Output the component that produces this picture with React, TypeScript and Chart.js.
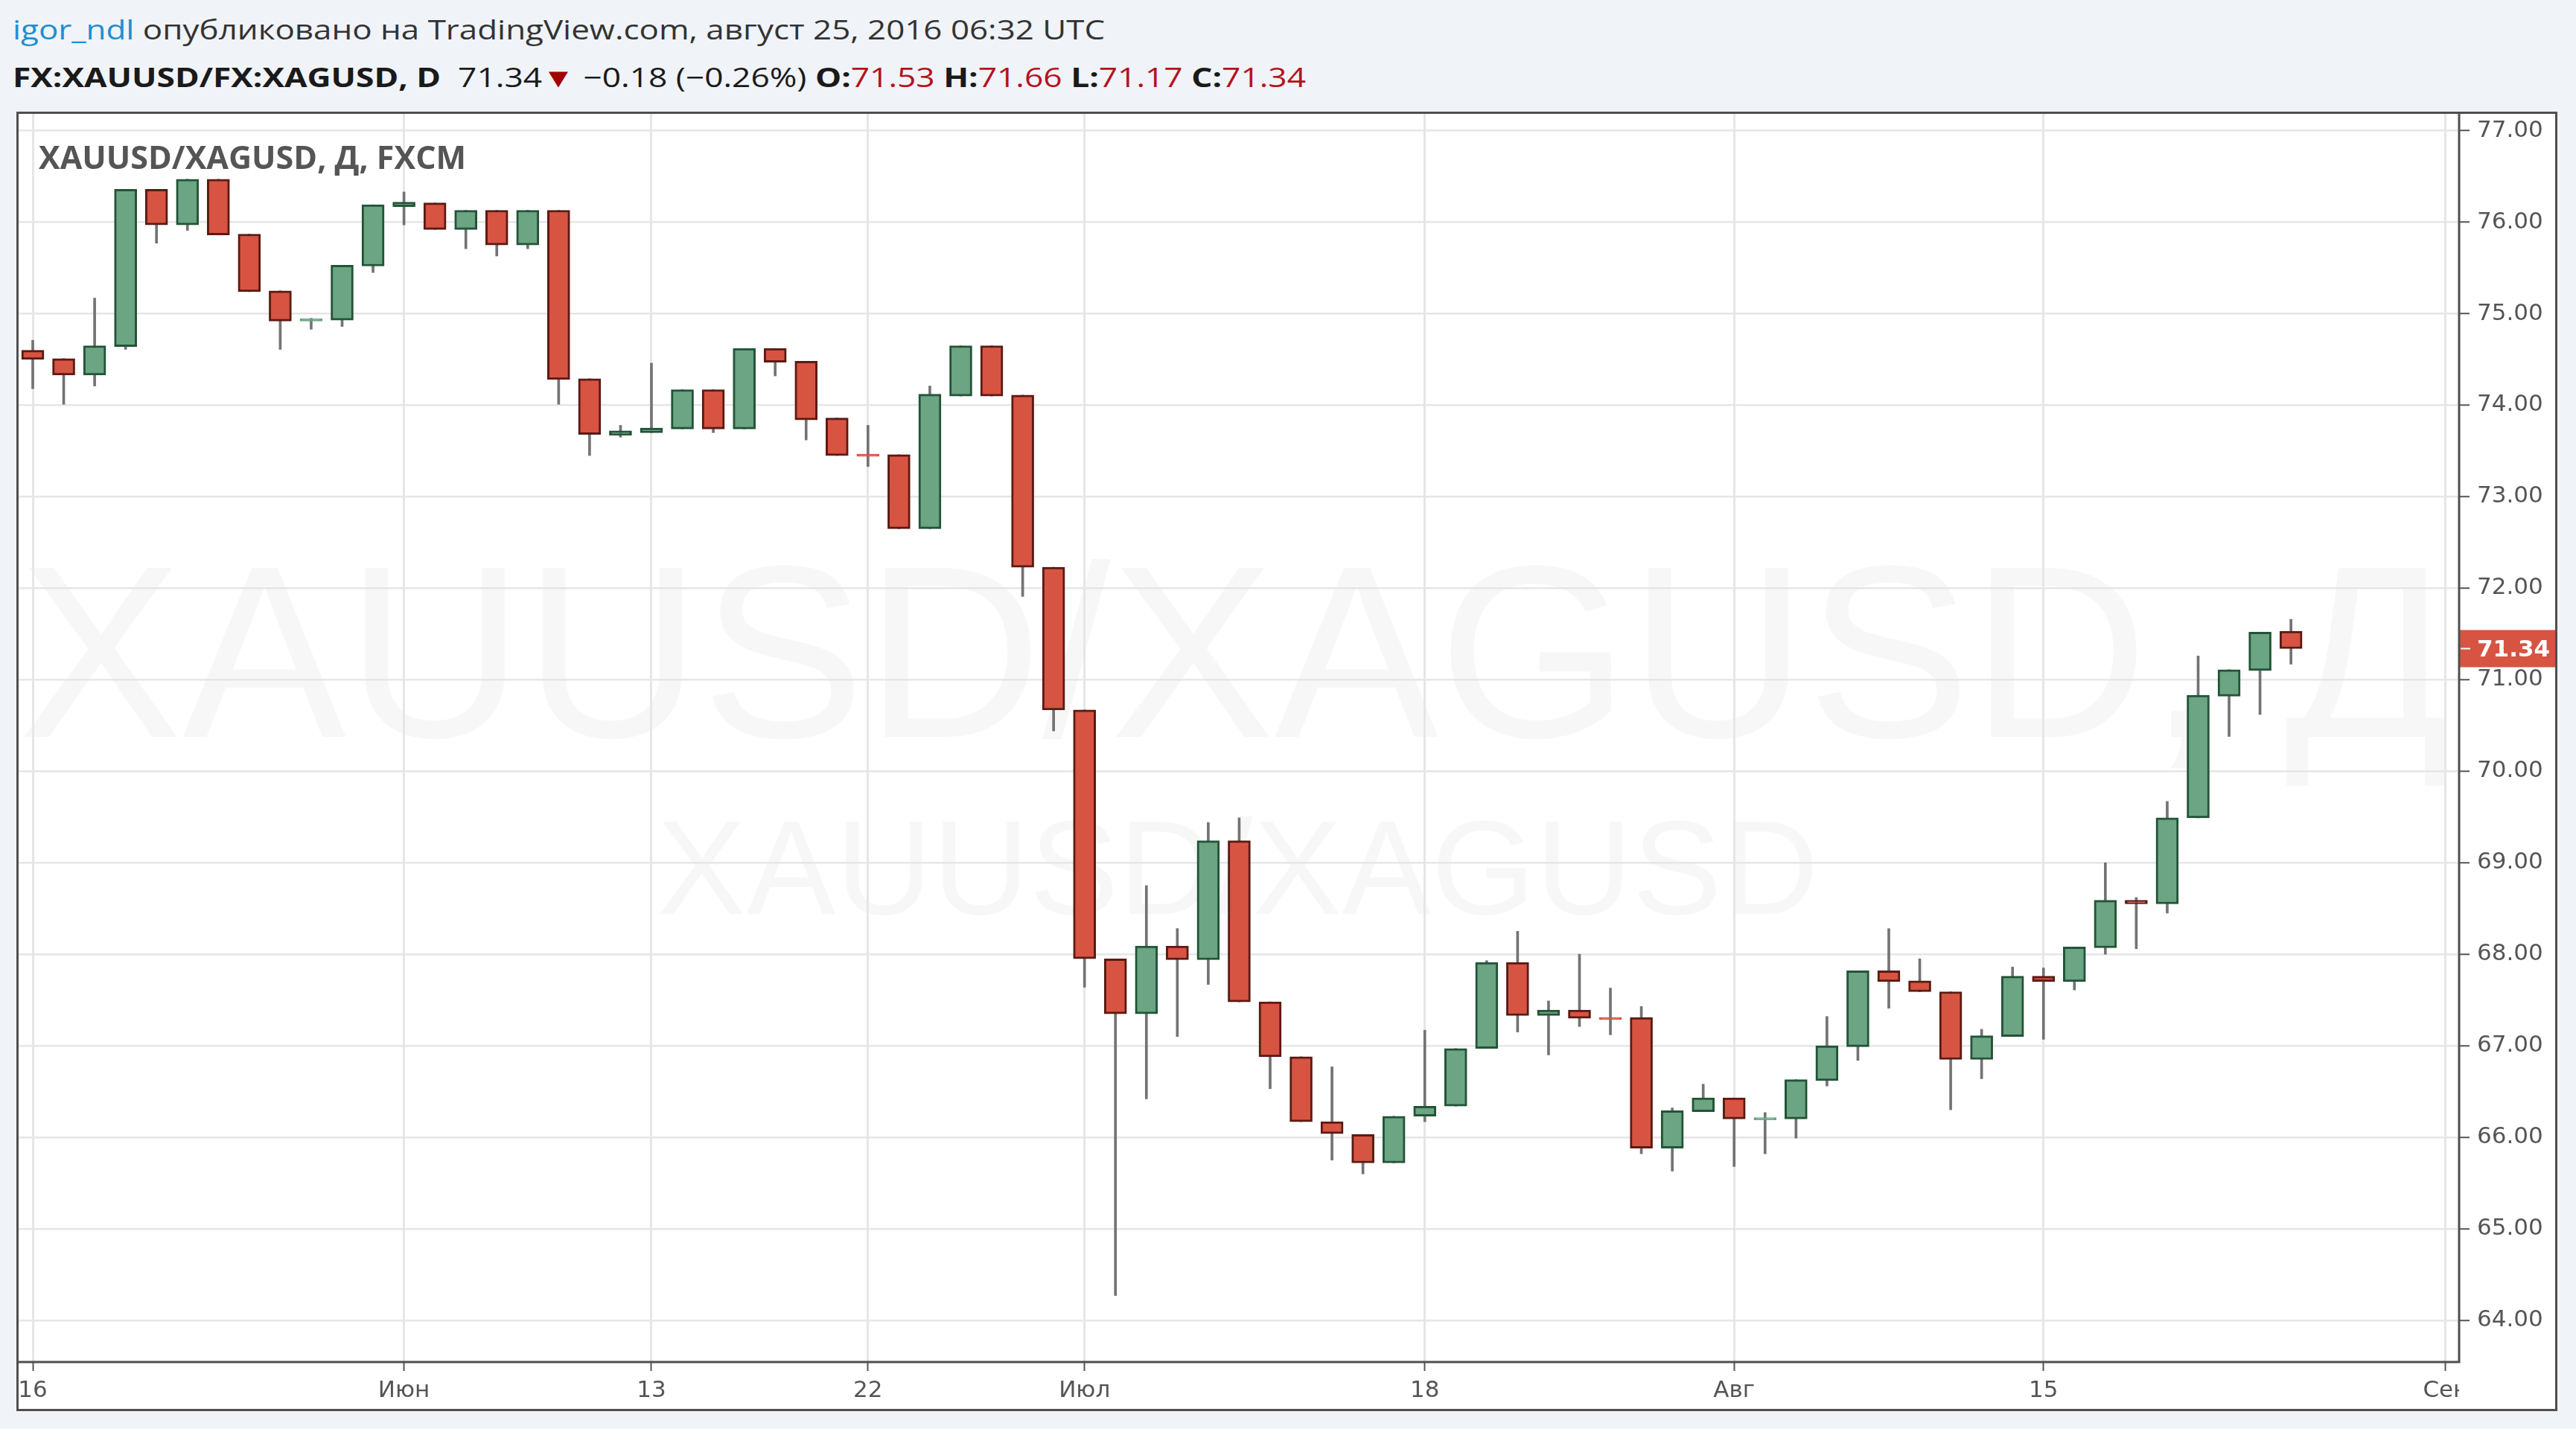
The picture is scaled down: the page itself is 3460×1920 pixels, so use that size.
import React, { useEffect, useRef } from "react";
import { Chart, registerables } from "chart.js";
Chart.register(...registerables);

// Trading days (index 0 = 16 May 2016)
const dates = [
  "05-16","05-17","05-18","05-19","05-20","05-23","05-24","05-25","05-26","05-27",
  "05-30","05-31","06-01","06-02","06-03","06-06","06-07","06-08","06-09","06-10",
  "06-13","06-14","06-15","06-16","06-17","06-20","06-21","06-22","06-23","06-24",
  "06-27","06-28","06-29","06-30","07-01","07-04","07-05","07-06","07-07","07-08",
  "07-11","07-12","07-13","07-14","07-15","07-18","07-19","07-20","07-21","07-22",
  "07-25","07-26","07-27","07-28","07-29","08-01","08-02","08-03","08-04","08-05",
  "08-08","08-09","08-10","08-11","08-12","08-15","08-16","08-17","08-18","08-19",
  "08-22","08-23","08-24","08-25",
];
const opens = [
  74.60, 74.51, 74.33, 74.64, 76.36, 75.97, 76.47, 75.87, 75.25, 74.92,
  74.93, 75.52, 76.17, 76.21, 75.92, 76.13, 75.75, 76.13, 74.29, 73.67,
  73.70, 73.74, 74.17, 73.74, 74.62, 74.48, 73.86, 73.465, 73.46, 72.65,
  74.10, 74.65, 74.11, 72.23, 70.67, 67.95, 67.35, 68.09, 67.94, 69.24,
  67.48, 66.88, 66.17, 66.03, 65.72, 66.23, 66.34, 66.97, 67.91, 67.33,
  67.39, 67.31, 67.31, 65.88, 66.28, 66.43, 66.19, 66.20, 66.62, 66.99,
  67.82, 67.71, 67.59, 66.85, 67.10, 67.76, 67.70, 68.07, 68.59, 68.55,
  69.49, 70.82, 71.10, 71.53,
];
const highs = [
  74.71, 74.51, 75.17, 76.36, 76.36, 76.47, 76.47, 75.87, 75.25, 74.95,
  75.53, 76.19, 76.33, 76.21, 76.13, 76.13, 76.13, 76.13, 74.29, 73.78,
  74.46, 74.17, 74.17, 74.62, 74.62, 74.48, 73.86, 73.78, 73.46, 74.21,
  74.65, 74.65, 74.11, 72.23, 70.67, 67.95, 68.75, 68.28, 69.44, 69.49,
  67.48, 66.88, 66.77, 66.03, 66.23, 67.17, 66.97, 67.93, 68.25, 67.49,
  68.00, 67.63, 67.43, 66.32, 66.58, 66.43, 66.27, 66.63, 67.32, 67.82,
  68.28, 67.95, 67.59, 67.18, 67.86, 67.85, 68.08, 69.00, 68.62, 69.67,
  71.26, 71.11, 71.52, 71.66,
];
const lows = [
  74.18, 74.01, 74.21, 74.61, 75.77, 75.91, 75.86, 75.24, 74.61, 74.83,
  74.86, 75.45, 75.97, 75.92, 75.71, 75.63, 75.71, 74.01, 73.45, 73.65,
  73.70, 73.74, 73.70, 73.74, 74.32, 73.62, 73.45, 73.33, 72.65, 72.65,
  74.10, 74.10, 71.91, 70.44, 67.64, 64.27, 66.42, 67.10, 67.67, 67.48,
  66.53, 66.17, 65.75, 65.60, 65.72, 66.17, 66.34, 66.97, 67.15, 66.90,
  67.21, 67.12, 65.82, 65.63, 66.28, 65.68, 65.82, 65.99, 66.56, 66.84,
  67.41, 67.59, 66.30, 66.64, 67.10, 67.07, 67.61, 68.00, 68.06, 68.45,
  69.49, 70.38, 70.62, 71.17,
];
const closes = [
  74.50, 74.33, 74.65, 76.36, 75.97, 76.47, 75.86, 75.24, 74.92, 74.945,
  75.53, 76.19, 76.22, 75.92, 76.13, 75.75, 76.13, 74.28, 73.68, 73.72,
  73.75, 74.17, 73.74, 74.62, 74.47, 73.84, 73.45, 73.44, 72.65, 74.12,
  74.65, 74.10, 72.23, 70.67, 67.95, 67.35, 68.09, 67.94, 69.24, 67.48,
  66.88, 66.17, 66.04, 65.72, 66.23, 66.34, 66.97, 67.91, 67.33, 67.39,
  67.30, 67.285, 65.88, 66.29, 66.43, 66.20, 66.215, 66.63, 67.00, 67.82,
  67.70, 67.59, 66.85, 67.11, 67.76, 67.70, 68.08, 68.59, 68.55, 69.49,
  70.83, 71.11, 71.52, 71.34,
];

const xTickIndex = [0, 12, 20, 27, 34, 45, 55, 65, 78];
const xTickLabels = ["16", "Июн", "13", "22", "Июл", "18", "Авг", "15", "Сен"];
const yTickValues = [64, 65, 66, 67, 68, 69, 70, 71, 72, 73, 74, 75, 76, 77];
const lastPrice = 71.34;

const UP_FILL = "#6ba583";
const UP_BORDER = "#225437";
const DOWN_FILL = "#d75442";
const DOWN_BORDER = "#5b1a13";
const WICK = "#737375";
const FRAME = "#4f4f4f";

const CANVAS_W = 3413;
const CANVAS_H = 1746;

const zeroPadding = (s: any) => {
  s.paddingTop = 0;
  s.paddingBottom = 0;
  s.paddingLeft = 0;
  s.paddingRight = 0;
};

const overlayPlugin = {
  id: "overlay",
  beforeDraw(chart: any) {
    const { ctx, chartArea } = chart;
    const cx = (chartArea.left + chartArea.right) / 2;
    ctx.save();
    ctx.fillStyle = "rgba(0,0,0,0.032)";
    ctx.textAlign = "center";
    ctx.textBaseline = "alphabetic";
    ctx.font = "330px 'Liberation Sans', Arial, sans-serif";
    ctx.fillText("XAUUSD/XAGUSD, Д", cx - 4, 840);
    ctx.font = "180px 'Liberation Sans', Arial, sans-serif";
    ctx.fillText("XAUUSD/XAGUSD", cx, 1078);
    ctx.restore();
  },
  afterDraw(chart: any) {
    const { ctx, chartArea, width, height } = chart;
    const y = chart.scales.y;
    ctx.save();
    // clip corner below price axis
    ctx.fillStyle = "#ffffff";
    ctx.fillRect(chartArea.right, chartArea.bottom, width - chartArea.right, height - chartArea.bottom);
    // legend text
    ctx.fillStyle = "#555555";
    ctx.font = "bold 43px 'Open Sans', sans-serif";
    ctx.textAlign = "left";
    ctx.textBaseline = "alphabetic";
    ctx.fillText("XAUUSD/XAGUSD, Д, FXCM", 30, 77);
    // last price label
    const py = y.getPixelForValue(lastPrice);
    ctx.fillStyle = DOWN_FILL;
    ctx.fillRect(chartArea.right, py - 25, width - chartArea.right, 50);
    ctx.strokeStyle = "#ffffff";
    ctx.lineWidth = 2;
    ctx.beginPath();
    ctx.moveTo(chartArea.right + 2, py);
    ctx.lineTo(chartArea.right + 15, py);
    ctx.stroke();
    ctx.fillStyle = "#ffffff";
    ctx.font = "bold 31px 'DejaVu Sans', sans-serif";
    ctx.textBaseline = "middle";
    ctx.fillText(lastPrice.toFixed(2), chartArea.right + 24, py + 2);
    // frames
    ctx.strokeStyle = FRAME;
    ctx.lineWidth = 3;
    ctx.beginPath();
    ctx.moveTo(1.5, 0);
    ctx.lineTo(1.5, height);
    ctx.moveTo(0, 1.5);
    ctx.lineTo(width, 1.5);
    ctx.moveTo(width - 1.5, 0);
    ctx.lineTo(width - 1.5, height);
    ctx.moveTo(0, height - 1.5);
    ctx.lineTo(width, height - 1.5);
    ctx.moveTo(chartArea.right, 0);
    ctx.lineTo(chartArea.right, chartArea.bottom + 1.5);
    ctx.moveTo(0, chartArea.bottom);
    ctx.lineTo(chartArea.right + 1.5, chartArea.bottom);
    ctx.stroke();
    ctx.restore();
  },
};

export default function App() {
  const ref = useRef<HTMLCanvasElement | null>(null);

  useEffect(() => {
    if (!ref.current) return;
    const isUp = opens.map((o, i) => closes[i] >= o);
    const isThinDoji = opens.map((o, i) => Math.abs(closes[i] - o) < 0.03);
    const fills = isUp.map((u) => (u ? UP_FILL : DOWN_FILL));
    const borders = isUp.map((u, i) => (isThinDoji[i] ? fills[i] : u ? UP_BORDER : DOWN_BORDER));

    const chart = new Chart(ref.current, {
      type: "bar",
      data: {
        datasets: [
          {
            label: "body",
            data: dates.map((d, i) => ({ x: i, y: [opens[i], closes[i]] })) as any,
            backgroundColor: fills,
            borderColor: borders,
            borderWidth: 3,
            borderSkipped: false,
            barThickness: 30,
            grouped: false,
            order: 0,
          },
          {
            label: "wick",
            data: dates.map((d, i) => ({ x: i, y: [lows[i], highs[i]] })) as any,
            backgroundColor: WICK,
            borderWidth: 0,
            barThickness: 3,
            grouped: false,
            order: 1,
          },
        ],
      },
      options: {
        responsive: false,
        animation: false,
        devicePixelRatio: 1,
        layout: { padding: 0 },
        plugins: { legend: { display: false }, tooltip: { enabled: false } },
        scales: {
          x: {
            type: "linear",
            min: -0.5295,
            max: 78.436,
            offset: false,
            afterFit: (s: any) => {
              s.height = 66;
              zeroPadding(s);
            },
            afterBuildTicks: (s: any) => {
              s.ticks = xTickIndex.map((v) => ({ value: v }));
            },
            grid: {
              color: "#e6e6e6",
              lineWidth: 3,
              offset: false,
              drawTicks: true,
              tickLength: 12,
              tickWidth: 2,
              tickColor: "#555555",
            },
            border: { display: false },
            ticks: {
              autoSkip: false,
              maxRotation: 0,
              padding: 8,
              color: "#555555",
              font: { family: "'DejaVu Sans', sans-serif", size: 31 },
              callback: (_v: any, i: number) => xTickLabels[i],
            },
          },
          y: {
            type: "linear",
            position: "right",
            min: 63.544,
            max: 77.208,
            afterFit: (s: any) => {
              s.width = 132;
              zeroPadding(s);
            },
            afterBuildTicks: (s: any) => {
              s.ticks = yTickValues.map((v) => ({ value: v }));
            },
            grid: {
              color: "#e6e6e6",
              lineWidth: 2.5,
              drawTicks: true,
              tickLength: 14,
              tickWidth: 2,
              tickColor: "#555555",
            },
            border: { display: false },
            ticks: {
              padding: 10,
              color: "#555555",
              font: { family: "'DejaVu Sans', sans-serif", size: 31 },
              callback: (v: any) => Number(v).toFixed(2),
            },
          },
        },
      },
      plugins: [overlayPlugin],
    });
    return () => chart.destroy();
  }, []);

  const red = "#b5121b";
  const line1: React.CSSProperties = {
    position: "absolute",
    left: 17,
    top: 22,
    fontFamily: "'Open Sans', sans-serif",
    fontSize: 36,
    lineHeight: "36px",
    whiteSpace: "pre",
    color: "#333333",
    transform: "scaleX(1.22)",
    transformOrigin: "left top",
  };
  const line2: React.CSSProperties = {
    ...line1,
    top: 86,
    color: "#1a1a1a",
    transform: "scaleX(1.23)",
  };

  return (
    <div
      style={{
        position: "absolute",
        left: 0,
        top: 0,
        width: 3460,
        height: 1920,
        background: "#f0f3f7",
        overflow: "hidden",
      }}
    >
      <div style={line1}>
        <span style={{ color: "#1e8fd0" }}>igor_ndl</span>
        <span> опубликовано на TradingView.com, август 25, 2016 06:32 UTC</span>
      </div>
      <div style={line2}>
        <b>FX:XAUUSD/FX:XAGUSD, D</b>
        <span>  71.34</span>
        <span style={{ color: "#a00000" }}>▼</span>
        <span> −0.18 (−0.26%) </span>
        <b>O:</b>
        <span style={{ color: red }}>71.53 </span>
        <b>H:</b>
        <span style={{ color: red }}>71.66 </span>
        <b>L:</b>
        <span style={{ color: red }}>71.17 </span>
        <b>C:</b>
        <span style={{ color: red }}>71.34</span>
      </div>
      <canvas
        ref={ref}
        width={CANVAS_W}
        height={CANVAS_H}
        style={{
          position: "absolute",
          left: 22,
          top: 150,
          width: CANVAS_W,
          height: CANVAS_H,
          background: "#ffffff",
        }}
      />
    </div>
  );
}
